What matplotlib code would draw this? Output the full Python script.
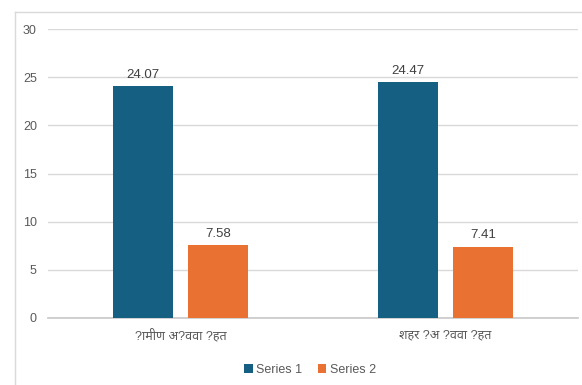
import matplotlib
matplotlib.use("Agg")
import matplotlib.pyplot as plt
from matplotlib.lines import Line2D
import numpy as np

plt.rcParams['font.family'] = ['Liberation Sans', 'Noto Sans Devanagari', 'Lohit Devanagari',
                               'Noto Sans', 'DejaVu Sans']

categories = ["?ामीण अ?ववा ?हत", "शहर ?अ ?ववा ?हत"]
series1 = [24.07, 24.47]
series2 = [7.58, 7.41]
series_names = ["Series 1", "Series 2"]
colors = ["#156082", "#E97132"]

W, H = 582, 385
fig = plt.figure(figsize=(W / 100, H / 100), dpi=100)
ax = fig.add_axes([48 / W, 1 - 318 / H, (578 - 48) / W, (318 - 29) / H])

x = np.arange(len(categories))
bw = 0.225
off = 0.1425
text_c = "#595959"

b1 = ax.bar(x - off, series1, bw, color=colors[0], label=series_names[0], zorder=3)
b2 = ax.bar(x + off, series2, bw, color=colors[1], label=series_names[1], zorder=3)
for bars, vals in ((b1, series1), (b2, series2)):
    for r, v in zip(bars, vals):
        ax.text(r.get_x() + r.get_width() / 2, v + 0.55, f"{v:.2f}",
                ha="center", va="bottom", fontsize=9.5, color="#404040")

ax.set_xlim(-0.5, 1.5)
ax.set_ylim(0, 30)
ax.set_yticks(range(0, 31, 5))
ax.yaxis.grid(True, color="#D9D9D9", linewidth=1, zorder=0)
ax.set_xticks(x)
ax.set_xticklabels(categories)
ax.tick_params(axis="both", length=0, colors=text_c, labelsize=9)
ax.tick_params(axis="y", pad=8)
ax.tick_params(axis="x", pad=8)
for s in ("top", "right", "left"):
    ax.spines[s].set_visible(False)
ax.spines["bottom"].set_color("#C8C8C8")
ax.spines["bottom"].set_linewidth(1.2)

leg = fig.legend(loc="center", bbox_to_anchor=(310 / W, 1 - 370 / H), ncol=2,
                 frameon=False, fontsize=9, handlelength=0.7, handleheight=0.7,
                 handletextpad=0.3, columnspacing=1.2)
for t in leg.get_texts():
    t.set_color(text_c)

# chart frame
fig.add_artist(Line2D([15 / W, 15 / W], [0, 1 - 12 / H], color="#D9D9D9", lw=1))
fig.add_artist(Line2D([15 / W, 1], [1 - 12 / H, 1 - 12 / H], color="#D9D9D9", lw=1))

fig.savefig("out.png", dpi=100, facecolor="white")
